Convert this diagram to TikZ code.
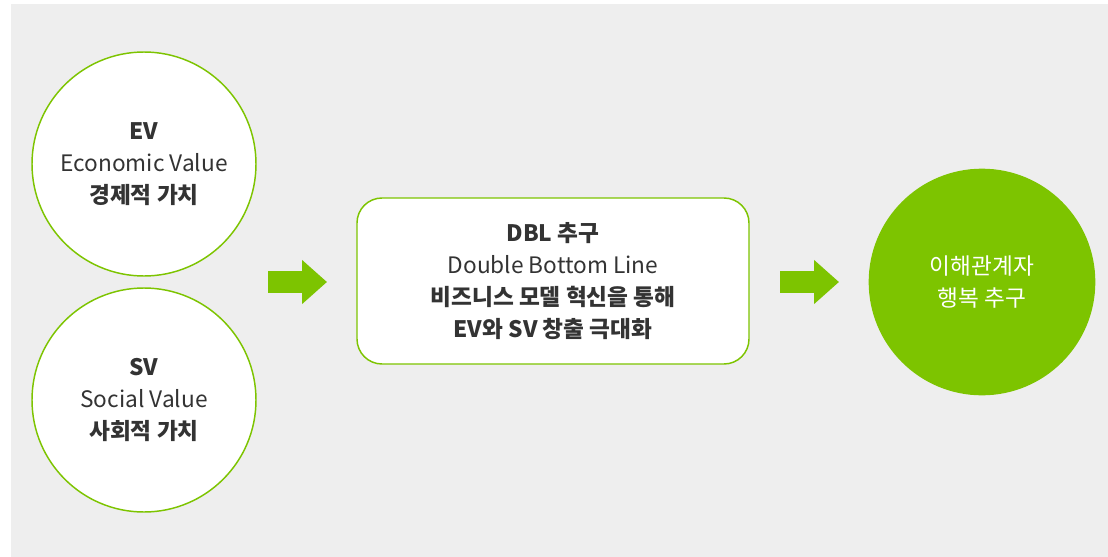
\documentclass[tikz,border=0pt]{standalone}
\usepackage{fontspec}
\setmainfont{Noto Sans CJK KR}
\usepackage{xcolor}
\usetikzlibrary{arrows.meta}
\definecolor{dblgreen}{RGB}{125,196,0}
\definecolor{dblbg}{RGB}{238,238,238}
\definecolor{dbltext}{RGB}{51,51,51}

\begin{document}
\begin{tikzpicture}[x=0.75pt, y=-0.75pt,
    font=\fontsize{17}{24}\selectfont, text=dbltext,
    valcircle/.style={circle, draw=dblgreen, line width=1.1pt, fill=white,
      minimum size=168pt, inner sep=0pt, align=center},
    blockarrow/.style={dblgreen, line width=16pt,
      -{Triangle[length=18.75pt, width=32pt]}}]
  \useasboundingbox (0,0) rectangle (1108,557);
  \fill[dblbg] (11,4) rectangle (1108,557);
  % ---- left: the two values ----
  \node[valcircle] (ev) at (144,164)
    {\textbf{EV}\\ Economic Value\\ \textbf{경제적 가치}};
  \node[valcircle] (sv) at (144,400)
    {\textbf{SV}\\ Social Value\\ \textbf{사회적 가치}};
  % ---- middle: DBL box ----
  \node[draw=dblgreen, line width=1.1pt, fill=white, rounded corners=18.75pt,
    minimum width=294pt, minimum height=124.5pt, align=center] (dbl) at (553,281)
    {\textbf{DBL 추구}\\ Double Bottom Line\\ \textbf{비즈니스 모델 혁신을 통해}\\ \textbf{EV와 SV 창출 극대화}};
  % ---- right: goal ----
  \node[circle, fill=dblgreen, minimum size=170pt, inner sep=0pt, align=center,
    text=white] (goal) at (982,282) {이해관계자\\ 행복 추구};
  % ---- block arrows ----
  \coordinate (a1s) at (268,282);
  \coordinate (a1e) at (327,282);
  \coordinate (a2s) at (780,282);
  \coordinate (a2e) at (839,282);
  \draw[blockarrow] (a1s) -- (a1e);
  \draw[blockarrow] (a2s) -- (a2e);
\end{tikzpicture}
\end{document}
